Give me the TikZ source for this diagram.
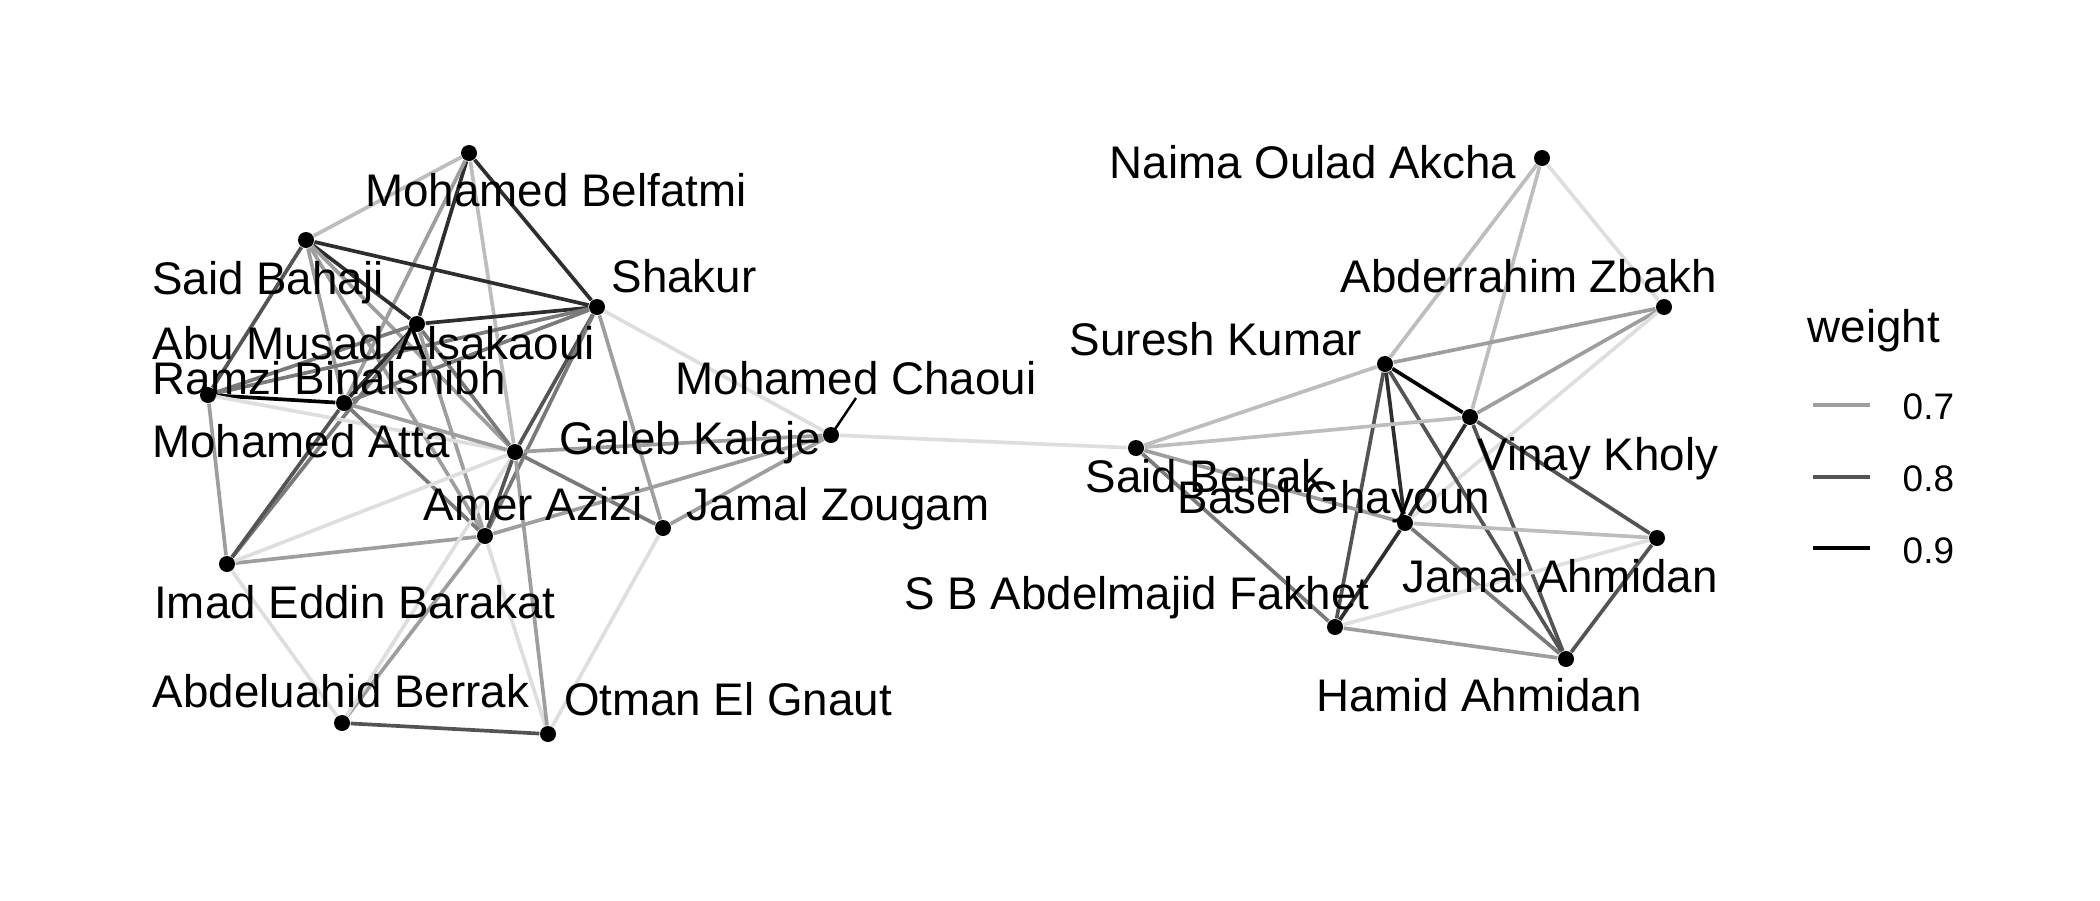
\documentclass[tikz,border=0pt]{standalone}
\usepackage{fontspec}
\setmainfont{Liberation Sans}
\usetikzlibrary{backgrounds}
\tikzset{
  dot/.style={circle,fill=black,inner sep=0pt,minimum size=0.16cm},
  lbl/.style={anchor=base,inner sep=0pt,font=\fontsize{13pt}{15pt}\selectfont},
  keytxt/.style={anchor=base west,inner sep=0pt,font=\fontsize{10.5pt}{12pt}\selectfont},
  e60/.style={draw=black!13,line width=1.05pt},
  e65/.style={draw=black!26,line width=1.05pt},
  e70/.style={draw=black!38,line width=1.05pt},
  e75/.style={draw=black!52,line width=1.05pt},
  e80/.style={draw=black!67,line width=1.05pt},
  e85/.style={draw=black!82,line width=1.05pt},
  e90/.style={draw=black,line width=1.05pt}
}
\begin{document}
\begin{tikzpicture}[x=0.01cm,y=-0.01cm]
\useasboundingbox (0,0) rectangle (2100,900);
\node[dot] (mb) at (469,153) {};
\node[dot] (sb) at (306,240) {};
\node[dot] (sh) at (597,307) {};
\node[dot] (am) at (417,324) {};
\node[dot] (rb) at (208,395) {};
\node[dot] (ma) at (344,403) {};
\node[dot] (gk) at (515,452) {};
\node[dot] (aa) at (485,536) {};
\node[dot] (jz) at (663,528) {};
\node[dot] (ib) at (227,564) {};
\node[dot] (ab) at (342,723) {};
\node[dot] (og) at (548,734) {};
\node[dot] (mc) at (831,435) {};
\node[dot] (na) at (1542,158) {};
\node[dot] (az) at (1664,307) {};
\node[dot] (sk) at (1385,364) {};
\node[dot] (vk) at (1470,417) {};
\node[dot] (sr) at (1136,448) {};
\node[dot] (bg) at (1405,523) {};
\node[dot] (ja) at (1657,538) {};
\node[dot] (fk) at (1335,627) {};
\node[dot] (ha) at (1566,659) {};
\coordinate (mc-s) at (856,398);
\begin{scope}[on background layer]
\draw[e65] (mb) -- (sb);
\draw[e85] (mb) -- (sh);
\draw[e85] (mb) -- (am);
\draw[e70] (mb) -- (ma);
\draw[e65] (mb) -- (gk);
\draw[e85] (sb) -- (sh);
\draw[e85] (sb) -- (am);
\draw[e80] (sb) -- (rb);
\draw[e70] (sb) -- (ma);
\draw[e70] (sb) -- (aa);
\draw[e70] (sb) -- (gk);
\draw[e85] (sh) -- (am);
\draw[e75] (sh) -- (rb);
\draw[e75] (sh) -- (ma);
\draw[e80] (sh) -- (gk);
\draw[e75] (sh) -- (aa);
\draw[e70] (sh) -- (jz);
\draw[e60] (sh) -- (mc);
\draw[e75] (am) -- (rb);
\draw[e85] (am) -- (ma);
\draw[e75] (am) -- (gk);
\draw[e70] (am) -- (aa);
\draw[e75] (am) -- (ib);
\draw[e90] (rb) -- (ma);
\draw[e70] (rb) -- (ib);
\draw[e60] (rb) -- (gk);
\draw[e80] (ma) -- (ib);
\draw[e70] (ma) -- (gk);
\draw[e75] (ma) -- (aa);
\draw[e70] (ib) -- (aa);
\draw[e60] (ib) -- (gk);
\draw[e60] (ib) -- (ab);
\draw[e70] (ab) -- (aa);
\draw[e60] (ab) -- (gk);
\draw[e80] (ab) -- (og);
\draw[e60] (og) -- (aa);
\draw[e70] (og) -- (gk);
\draw[e60] (og) -- (jz);
\draw[e80] (gk) -- (aa);
\draw[e75] (gk) -- (jz);
\draw[e70] (gk) -- (mc);
\draw[e70] (aa) -- (mc);
\draw[e70] (jz) -- (mc);
\draw[e60] (mc) -- (sr);
\draw[e65] (na) -- (sk);
\draw[e65] (na) -- (vk);
\draw[e60] (na) -- (az);
\draw[e70] (az) -- (sk);
\draw[e70] (az) -- (vk);
\draw[e60] (az) -- (bg);
\draw[e65] (sk) -- (sr);
\draw[e90] (sk) -- (vk);
\draw[e80] (sk) -- (fk);
\draw[e85] (sk) -- (bg);
\draw[e80] (sk) -- (ha);
\draw[e85] (vk) -- (bg);
\draw[e80] (vk) -- (ha);
\draw[e80] (vk) -- (ja);
\draw[e65] (vk) -- (sr);
\draw[e70] (bg) -- (sr);
\draw[e75] (fk) -- (sr);
\draw[e85] (bg) -- (fk);
\draw[e65] (bg) -- (ja);
\draw[e75] (bg) -- (ha);
\draw[e80] (ja) -- (ha);
\draw[e70] (fk) -- (ha);
\draw[e60] (fk) -- (ja);
\draw[line width=0.7pt] (mc.center) -- (mc-s);
\end{scope}
\node[lbl] (mb-t) at (556,206) {Mohamed Belfatmi};
\node[lbl] (sb-t) at (268,294) {Said Bahaji};
\node[lbl] (sh-t) at (684,292) {Shakur};
\node[lbl] (am-t) at (374,359) {Abu Musad Alsakaoui};
\node[lbl] (rb-t) at (329,394) {Ramzi Binalshibh};
\node[lbl] (ma-t) at (301,457) {Mohamed Atta};
\node[lbl] (gk-t) at (690,454) {Galeb Kalaje};
\node[lbl] (aa-t) at (533,520) {Amer Azizi};
\node[lbl] (jz-t) at (838,520) {Jamal Zougam};
\node[lbl] (ib-t) at (355,618) {Imad Eddin Barakat};
\node[lbl] (ab-t) at (341,707) {Abdeluahid Berrak};
\node[lbl] (og-t) at (728,715) {Otman El Gnaut};
\node[lbl] (mc-t) at (856,394) {Mohamed Chaoui};
\node[lbl] (na-t) at (1313,178) {Naima Oulad Akcha};
\node[lbl] (az-t) at (1529,292) {Abderrahim Zbakh};
\node[lbl] (sk-t) at (1216,355) {Suresh Kumar};
\node[lbl] (vk-t) at (1598,470) {Vinay Kholy};
\node[lbl] (sr-t) at (1205,492) {Said Berrak};
\node[lbl] (bg-t) at (1334,513) {Basel Ghayoun};
\node[lbl] (ja-t) at (1560,592) {Jamal Ahmidan};
\node[lbl] (fk-t) at (1137,609) {S B Abdelmajid Fakhet};
\node[lbl] (ha-t) at (1479,711) {Hamid Ahmidan};
\node[lbl,anchor=base west] (key) at (1807,342) {weight};
\coordinate (k7a) at (1813,405); \coordinate (k7b) at (1870,405);
\coordinate (k8a) at (1813,477); \coordinate (k8b) at (1870,477);
\coordinate (k9a) at (1813,548); \coordinate (k9b) at (1870,548);
\draw[draw=black!38,line width=1.15pt] (k7a) -- (k7b);
\draw[draw=black!67,line width=1.15pt] (k8a) -- (k8b);
\draw[draw=black,line width=1.15pt] (k9a) -- (k9b);
\node[keytxt] (k7) at (1902,419) {0.7};
\node[keytxt] (k8) at (1902,491) {0.8};
\node[keytxt] (k9) at (1902,563) {0.9};
\end{tikzpicture}
\end{document}
